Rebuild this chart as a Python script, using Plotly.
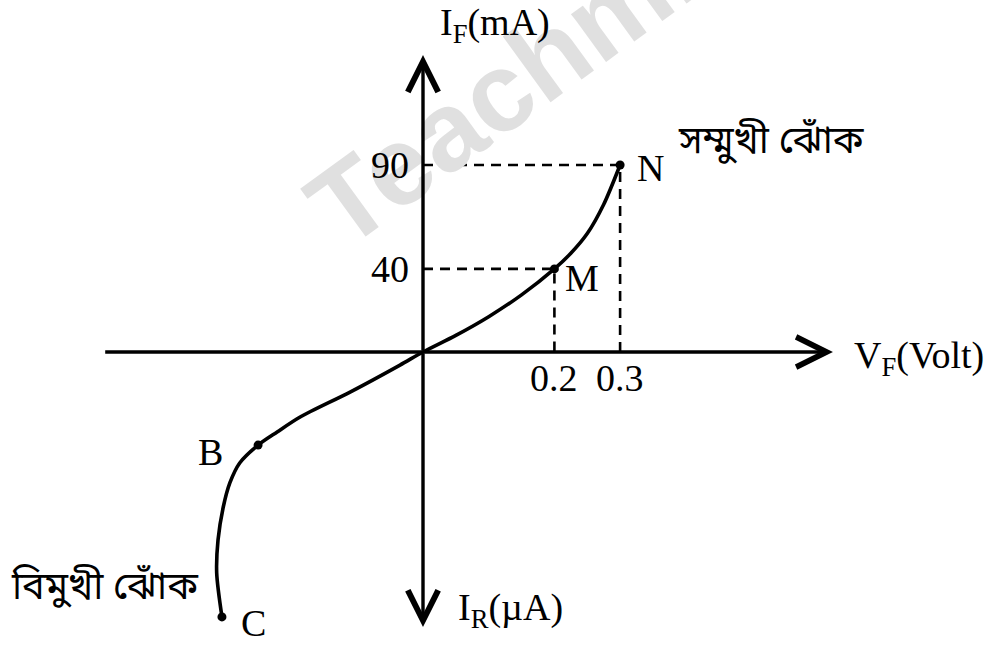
import plotly.graph_objects as go

# Forward-bias branch: V_F in volts, I_F in mA
v_fwd = [0.0, 0.05, 0.10, 0.15, 0.20, 0.225, 0.25, 0.275, 0.30]
i_fwd = [0.0, 8.0, 17.0, 27.5, 40.0, 47.5, 57.0, 71.0, 90.0]

# Reverse-bias branch (schematic units on the same grid), from C up to the origin
v_rev = [-0.306, -0.314, -0.312, -0.304, -0.294, -0.279, -0.251, -0.222, -0.187, -0.111, -0.035, 0.0]
i_rev = [-127.5, -106.4, -90.5, -74.6, -63.0, -53.4, -44.8, -38.5, -31.3, -19.3, -6.3, 0.0]

# Named points on the curve
pt_names = ["M", "N", "B", "C"]
pt_v = [0.20, 0.30, -0.251, -0.306]
pt_i = [40.0, 90.0, -44.8, -127.5]

# Marked values on the axes
tick_v = [0.2, 0.3]
tick_i = [40, 90]

# Axis extents (arrow tips)
x_axis_min, x_axis_max = -0.486, 0.624
y_axis_min, y_axis_max = -132.4, 142.9

W, H = 1000, 653
X0_PX, Y0_PX = 423, 352          # where the origin sits on the page
PX_PER_V, PX_PER_MA = 657.0, 2.0778

x_range = [-X0_PX / PX_PER_V, (W - X0_PX) / PX_PER_V]
y_range = [-(H - Y0_PX) / PX_PER_MA, Y0_PX / PX_PER_MA]

SERIF = "Liberation Serif, Times New Roman, serif"
BENGALI = "Noto Sans Bengali, Noto Serif Bengali, Lohit Bengali, Vrinda, FreeSans, sans-serif"
FS = 38

fig = go.Figure()

# Projection lines from M and N to the axes
for v, i in zip(tick_v, tick_i):
    fig.add_trace(go.Scatter(
        x=[0, v, v], y=[i, i, 0], mode="lines",
        line=dict(color="black", width=2.6, dash="10px,7px"),
        hoverinfo="skip", showlegend=False))

# Characteristic curve
fig.add_trace(go.Scatter(
    x=v_rev + v_fwd[1:], y=i_rev + i_fwd[1:], mode="lines",
    line=dict(color="black", width=3.6, shape="spline", smoothing=0.8),
    hoverinfo="skip", showlegend=False))

# Dots at the named points
fig.add_trace(go.Scatter(
    x=pt_v, y=pt_i, mode="markers",
    marker=dict(color="black", size=9),
    hoverinfo="skip", showlegend=False))

annotations = []

# Faint watermark behind everything else
annotations.append(dict(
    xref="paper", yref="paper", x=0.545, y=0.911, xanchor="center", yanchor="middle",
    text="<b>Teachmint</b>", showarrow=False, textangle=-36,
    font=dict(family="Liberation Sans, Arial, sans-serif", size=112, color="#e0e0e0")))

# Axes drawn as arrows
axis_arrow = dict(xref="x", yref="y", axref="x", ayref="y", text="", showarrow=True,
                  arrowhead=5, arrowwidth=3.4, arrowsize=1.75, arrowcolor="black")
annotations.append(dict(axis_arrow, x=x_axis_max, y=0, ax=x_axis_min, ay=0))
annotations.append(dict(axis_arrow, x=0, y=y_axis_max, ax=0, ay=0))
annotations.append(dict(axis_arrow, x=0, y=y_axis_min, ax=0, ay=0))

# Values on the axes
for i in tick_i:
    annotations.append(dict(xref="x", yref="y", x=0, y=i, text=str(i), showarrow=False,
                            xanchor="right", yanchor="middle", xshift=-12,
                            font=dict(family=SERIF, size=FS, color="black")))
for v in tick_v:
    annotations.append(dict(xref="x", yref="y", x=v, y=0, text=str(v), showarrow=False,
                            xanchor="center", yanchor="middle", yshift=-26,
                            font=dict(family=SERIF, size=FS, color="black")))

# Point names
name_shift = {"M": (28, -9), "N": (30, -3), "B": (-48, -7), "C": (32, -6)}
for n, v, i in zip(pt_names, pt_v, pt_i):
    dx, dy = name_shift[n]
    annotations.append(dict(xref="x", yref="y", x=v, y=i, text=n, showarrow=False,
                            xanchor="center", yanchor="middle", xshift=dx, yshift=dy,
                            font=dict(family=SERIF, size=FS, color="black")))

# Axis titles and bias region names, placed on the page
page_text = [
    ("I<sub>F</sub>(mA)", 0.495, 0.962, SERIF, FS),
    ("V<sub>F</sub>(Volt)", 0.919, 0.452, SERIF, FS),
    ("I<sub>R</sub>(µA)", 0.510, 0.066, SERIF, FS),
    ("সম্মুখী ঝোঁক", 0.771, 0.7795, BENGALI, 38),
    ("বিমুখী ঝোঁক", 0.105, 0.0965, BENGALI, 38),
]
for txt, px, py, fam, size in page_text:
    annotations.append(dict(xref="paper", yref="paper", x=px, y=py, text=txt,
                            showarrow=False, xanchor="center", yanchor="middle",
                            font=dict(family=fam, size=size, color="black")))

fig.update_layout(
    width=W, height=H,
    margin=dict(l=0, r=0, t=0, b=0),
    paper_bgcolor="white", plot_bgcolor="white",
    xaxis=dict(range=x_range, visible=False, fixedrange=True),
    yaxis=dict(range=y_range, visible=False, fixedrange=True),
    annotations=annotations,
    showlegend=False,
)

fig.write_html("out.html")
